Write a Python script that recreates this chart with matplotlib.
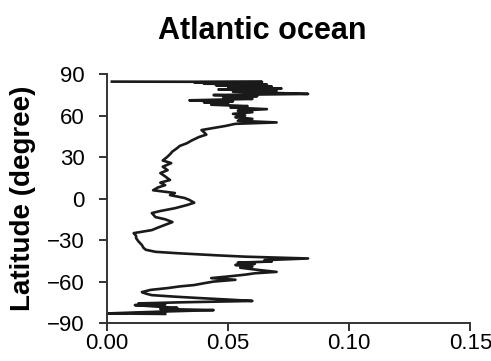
import matplotlib
matplotlib.use("Agg")
import matplotlib.pyplot as plt

plt.rcParams['font.family'] = ['Liberation Sans', 'DejaVu Sans']

# latitude (north -> south) and the plotted value
lat = [84.5, 84.3, 84.0, 83.6, 83.0, 82.4, 81.8, 81.0, 80.3, 79.5, 78.8, 78.0,
       77.2, 76.4, 75.6, 74.8, 74.0, 73.2, 72.0, 71.0, 70.2, 69.5, 68.6, 67.8,
       66.8, 65.8, 64.6, 63.5, 62.4, 61.2, 60.0, 58.8, 57.6, 56.2, 55.0, 54.0,
       52.5, 51.0, 49.5, 48.0, 46.2, 44.5, 42.0, 40.0, 38.0, 36.5, 34.0, 32.0,
       30.0, 27.5, 25.6, 23.0, 20.5, 18.4, 16.0, 13.4, 11.5, 9.7, 8.0, 6.0,
       4.0, 2.5, 0.4, -1.0, -3.0, -4.7, -7.0, -9.0, -10.5, -13.4, -15.0, -17.0,
       -19.0, -21.0, -22.8, -25.0, -27.0, -28.6, -31.0, -33.6, -35.5, -37.0,
       -38.5, -39.5, -41.0, -42.0, -43.3, -44.5, -45.5, -46.3, -47.2, -48.0,
       -49.0, -50.0, -51.5, -53.0, -54.0, -55.0, -56.3, -57.5, -58.7, -60.0,
       -61.2, -62.5, -63.5, -64.7, -66.0, -67.6, -68.7, -69.8, -70.9, -72.0,
       -73.0, -74.0, -75.0, -75.8, -76.5, -77.0, -78.0, -79.0, -79.8, -80.6,
       -81.5, -82.3, -83.0, -83.4]
val = [0.002, 0.064, 0.036, 0.060, 0.040, 0.066, 0.045, 0.068, 0.050, 0.072, 0.046, 0.070,
       0.052, 0.068, 0.083, 0.044, 0.062, 0.048, 0.060, 0.034, 0.052, 0.040, 0.050, 0.043,
       0.058, 0.051, 0.066, 0.054, 0.060, 0.052, 0.057, 0.053, 0.060, 0.054, 0.070, 0.053,
       0.049, 0.044, 0.039, 0.040, 0.041, 0.038, 0.035, 0.033, 0.030, 0.029, 0.027, 0.026,
       0.0248, 0.023, 0.0265, 0.023, 0.025, 0.022, 0.024, 0.026, 0.022, 0.024, 0.021, 0.019,
       0.028, 0.026, 0.032, 0.034, 0.036, 0.033, 0.028, 0.022, 0.0185, 0.020, 0.024, 0.027,
       0.024, 0.021, 0.0185, 0.011, 0.012, 0.012, 0.013, 0.0144, 0.015, 0.016,
       0.020, 0.029, 0.045, 0.057, 0.083, 0.065, 0.068, 0.054, 0.061, 0.053,
       0.060, 0.055, 0.062, 0.070, 0.061, 0.057, 0.050, 0.043, 0.053, 0.044,
       0.040, 0.036, 0.030, 0.025, 0.018, 0.0144, 0.016, 0.0185, 0.028, 0.039,
       0.050, 0.060, 0.030, 0.013, 0.024, 0.0115, 0.020, 0.029, 0.022, 0.044,
       0.026, 0.012, 0.0005, 0.024]

xticks = [0.00, 0.05, 0.10, 0.15]
yticks = [-90, -60, -30, 0, 30, 60, 90]

fig = plt.figure(figsize=(4.91, 3.61), dpi=100)
ax = fig.add_axes([0.218, 0.105, 0.740, 0.69])
ax.plot(val, lat, color='#1a1a1a', linewidth=1.9)

ax.set_xlim(0, 0.15)
ax.set_ylim(-90, 90)
ax.set_xticks(xticks)
ax.set_xticklabels(['%.2f' % v for v in xticks])
ax.set_yticks(yticks)
ax.set_yticklabels(['\u2212%d' % -v if v < 0 else '%d' % v for v in yticks])
ax.tick_params(labelsize=16, width=1.4, length=6, color='#333333')
ax.tick_params(axis='x', pad=1)
ax.tick_params(axis='y', pad=10)
for s in ['top', 'right']:
    ax.spines[s].set_visible(False)
for s in ['left', 'bottom']:
    ax.spines[s].set_linewidth(1.4)
    ax.spines[s].set_color('#333333')

fig.text(0.535, 0.915, 'Atlantic ocean', fontsize=22, fontweight='bold',
         ha='center', va='center')
# y label placed by hand so it sits where the reference has it
fig.text(0.047, 0.45, 'Latitude (degree)', fontsize=20, fontweight='bold',
         rotation=90, ha='center', va='center')

fig.savefig('out.png', dpi=100)
